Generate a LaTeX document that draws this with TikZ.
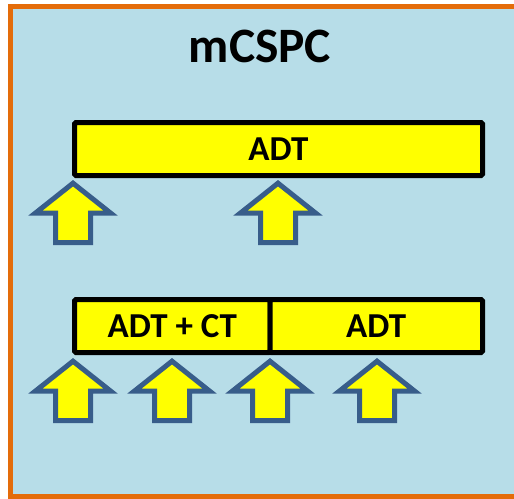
\documentclass[tikz,border=0pt]{standalone}
\usepackage{fontspec}
\setmainfont{Carlito}
\definecolor{panelblue}{HTML}{B7DDE8}
\definecolor{frameorange}{HTML}{E46C0A}
\definecolor{arrowedge}{HTML}{385D8A}
\definecolor{baryellow}{HTML}{FFFF00}
\tikzset{
  bar/.style={draw=black, line width=5pt, fill=baryellow, rounded corners=1.5pt,
    minimum height=53pt, inner sep=0pt, font=\bfseries\fontsize{35}{37}\selectfont},
  arrowshape/.style={draw=arrowedge, fill=baryellow, line width=5pt, line join=miter},
  uparr/.pic={
    \draw[arrowshape] (0,3.2) -- (37.5,33) -- (17.5,33) -- (17.5,62.5)
      -- (-17.5,62.5) -- (-17.5,33) -- (-37.5,33) -- cycle;
  }
}
\begin{document}
\begin{tikzpicture}[x=1pt, y=-1pt]
  \useasboundingbox (0,0) rectangle (514,498);
  % panel background and its orange frame (open on the right)
  \fill[panelblue] (8,4) rectangle (520,499);
  \draw[frameorange, line width=5pt, line join=miter]
    (520,6.5) -- (10.5,6.5) -- (10.5,496.5) -- (520,496.5);
  % title
  \node[anchor=base, font=\bfseries\fontsize{49.5}{52}\selectfont] (title) at (260,62) {mCSPC};
  % upper bar
  \node[bar, minimum width=408pt] (adtA) at (278.5,149) {ADT};
  % lower bar, split in two
  \node[bar, minimum width=195.5pt] (adtct) at (172.25,326) {ADT + CT};
  \node[bar, minimum width=212.5pt] (adtB) at (376.25,326) {ADT};
  % arrows under the upper bar
  \pic at (73,180) {uparr};
  \pic at (278,180) {uparr};
  % arrows under the lower bar
  \pic at (73,358) {uparr};
  \pic at (172,358) {uparr};
  \pic at (270,358) {uparr};
  \pic at (377,358) {uparr};
\end{tikzpicture}
\end{document}
